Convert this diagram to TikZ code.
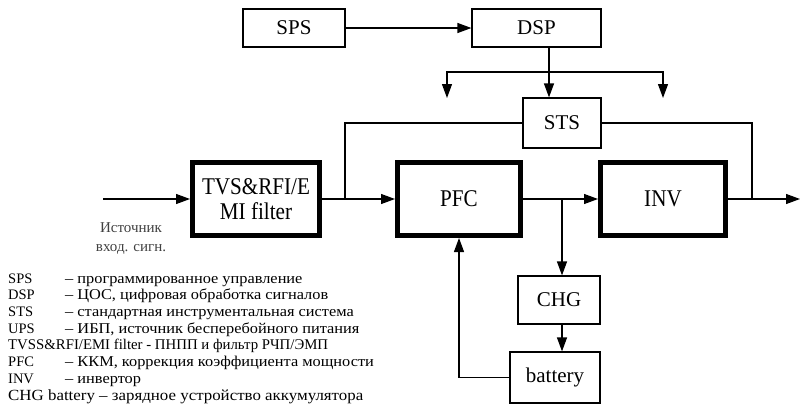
\documentclass[tikz,border=0pt]{standalone}
\usepackage{fontspec}
\setmainfont{Liberation Serif}
\newfontfamily\condfont[FakeStretch=0.88]{Liberation Serif}
\newfontfamily\widefont[FakeStretch=1.09]{Liberation Serif}
\usetikzlibrary{arrows.meta}
\tikzset{
  thinbox/.style={draw, line width=1.2pt, inner sep=0pt, font=\fontsize{21}{24}\selectfont},
  thickbox/.style={draw, line width=5pt, inner sep=0pt, align=center, font=\condfont\fontsize{24}{25}\selectfont},
  conn/.style={line width=1.2pt},
  arr/.style={conn, -{Triangle[length=14pt,width=10pt]}},
  legend/.style={anchor=base west, inner sep=0pt, font=\widefont\fontsize{15}{17}\selectfont},
  abbr/.style={anchor=base west, inner sep=0pt, font=\fontsize{14.5}{17}\selectfont}
}
\begin{document}
\begin{tikzpicture}[x=1pt,y=-1pt]
\useasboundingbox (0,0) rectangle (800,418);
% top boxes
\node[thinbox, minimum width=102pt, minimum height=38pt] (sps) at (294,28) {SPS};
\node[thinbox, minimum width=129pt, minimum height=38pt] (dsp) at (536.5,28) {DSP};
\node[thinbox, minimum width=78pt, minimum height=50pt] (sts) at (562,123) {STS};
% main chain
\node[thickbox, minimum width=127pt, minimum height=73pt] (tvs) at (256,199) {TVS\&RFI/E\\MI filter};
\node[thickbox, minimum width=123pt, minimum height=73pt] (pfc) at (459,199) {PFC};
\node[thickbox, minimum width=125pt, minimum height=73pt] (inv) at (663,199) {INV};
% lower boxes
\node[thinbox, minimum width=82pt, minimum height=48pt] (chg) at (559,300) {CHG};
\node[thinbox, minimum width=90pt, minimum height=51pt] (bat) at (555,377.5) {battery};
% coordinates
\coordinate (in) at (103,199);
\coordinate (out) at (800,199);
\coordinate (j1) at (345,199);
\coordinate (j2) at (562,199);
\coordinate (rj) at (752,199);
\coordinate (dspb) at (549,72);
\coordinate (bl) at (447,72);
\coordinate (br) at (663,72);
\coordinate (blt) at (447,98);
\coordinate (brt) at (663,98);
% connectors
\draw[arr] (sps.east) -- (dsp.west);
\draw[conn] (dsp.south -| dspb) -- (dspb);
\draw[arr] (dspb) -- (dspb |- sts.north);
\draw[arr] (dspb) -- (bl) -- (blt);
\draw[arr] (dspb) -- (br) -- (brt);
\draw[arr] (in) -- (tvs.west);
\draw[arr] (tvs.east) -- (pfc.west);
\draw[conn] (j1) -- (j1 |- sts.west) -- (sts.west);
\draw[conn] (sts.east) -- (rj |- sts.east) -- (rj);
\draw[arr] (pfc.east) -- (inv.west);
\draw[arr] (inv.east) -- (out);
\draw[arr] (j2) -- (j2 |- chg.north);
\draw[arr] (j2 |- chg.south) -- (j2 |- bat.north);
\draw[arr] (bat.west) -- (bat.west -| pfc.south) -- (pfc.south);
% source label
\node[align=center, inner sep=0pt, text=black!75, font=\fontsize{15}{19}\selectfont] (src) at (131,239) {Источник\\вход. сигн.};
% legend
\node[abbr] (l1a) at (8,283) {SPS};   \node[legend] (l1b) at (65,283) {– программированное управление};
\node[abbr] (l2a) at (8,299.5) {DSP};   \node[legend] (l2b) at (65,299.5) {– ЦОС, цифровая обработка сигналов};
\node[abbr] (l3a) at (8,316) {STS};   \node[legend] (l3b) at (65,316) {– стандартная инструментальная система};
\node[abbr] (l4a) at (8,333) {UPS};   \node[legend] (l4b) at (65,333) {– ИБП, источник бесперебойного питания};
\node[abbr, font=\fontsize{14.8}{17}\selectfont] (l5) at (8,349.5) {TVSS\&RFI/EMI filter - ПНПП и фильтр РЧП/ЭМП};
\node[abbr] (l6a) at (8,366.5) {PFC};   \node[legend] (l6b) at (65,366.5) {– ККМ, коррекция коэффициента мощности};
\node[abbr] (l7a) at (8,383) {INV};   \node[legend] (l7b) at (65,383) {– инвертор};
\node[legend, font=\widefont\fontsize{15.5}{17}\selectfont] (l8) at (8,400) {CHG battery – зарядное устройство аккумулятора};
\end{tikzpicture}
\end{document}
